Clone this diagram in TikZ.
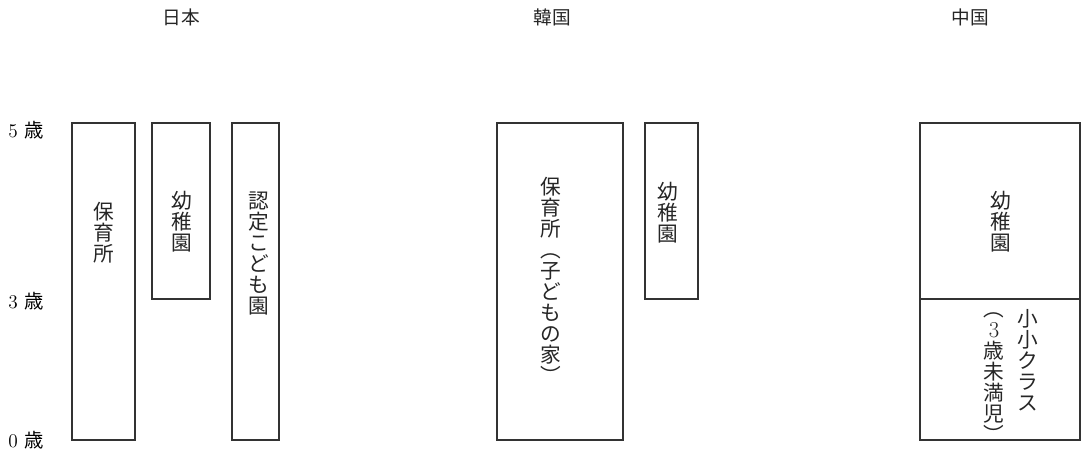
\documentclass[tikz,border=0pt]{standalone}
\usepackage{fontspec}
\newfontfamily\jpfont{Noto Sans CJK JP}
\usetikzlibrary{shadows}
\tikzset{
  chartbox/.style={draw=black!80, line width=0.8pt, fill=white,
    drop shadow={shadow xshift=1pt, shadow yshift=-1pt, fill=black!25, opacity=0.5}},
  tate/.style={font=\jpfont\fontsize{15.5}{15.75}\selectfont, align=center, inner sep=0pt, text=black!85},
  heading/.style={font=\jpfont\fontsize{14}{15}\selectfont, inner sep=0pt, text=black!85},
  agelabel/.style={font=\fontsize{14.5}{15}\selectfont, inner sep=0pt, anchor=west}
}
\begin{document}
\begin{tikzpicture}[x=0.75pt, y=-0.75pt]
        \useasboundingbox (0,0) rectangle (1082,452);
        % headings
        \node[heading] (jp) at (181,17) {日本};
        \node[heading] (kr) at (552,17) {韓国};
        \node[heading] (cn) at (970,17) {中国};
        % ages
        \node[agelabel] (age5) at (8,130) {5 {\jpfont 歳}};
        \node[agelabel] (age3) at (8,301) {3 {\jpfont 歳}};
        \node[agelabel] (age0) at (8,440) {0 {\jpfont 歳}};
        % Japan
        \draw[chartbox] (72,123) rectangle (135,440);
        \draw[chartbox] (152,123) rectangle (210,299);
        \draw[chartbox] (232,123) rectangle (279,440);
        \node[tate] (jpHoiku) at (104,233) {保\\育\\所};
        \node[tate] (jpYochi) at (182,222) {幼\\稚\\園};
        \node[tate] (jpNintei) at (259,254) {認\\定\\こ\\ど\\も\\園};
        % Korea
        \draw[chartbox] (497,123) rectangle (623,440);
        \draw[chartbox] (645,123) rectangle (698,299);
        \node[tate] (krHoiku) at (551,280) {保\\育\\所\\︵\\子\\ど\\も\\の\\家\\︶};
        \node[tate] (krYochi) at (668,213) {幼\\稚\\園};
        % China
        \draw[chartbox] (920,123) rectangle (1080,440);
        \draw[black!80, line width=0.8pt] (920,299) -- (1080,299);
        \node[tate] (cnYochi) at (1001,222) {幼\\稚\\園};
        \node[tate] (cnShosho) at (1028,360) {小\\小\\ク\\ラ\\ス};
        \node[tate] (cnMiman) at (994,378) {︵\\{\fontspec{Latin Modern Roman}\fontsize{17}{15.75}\selectfont 3}\\歳\\未\\満\\児\\︶};
\end{tikzpicture}
\end{document}
